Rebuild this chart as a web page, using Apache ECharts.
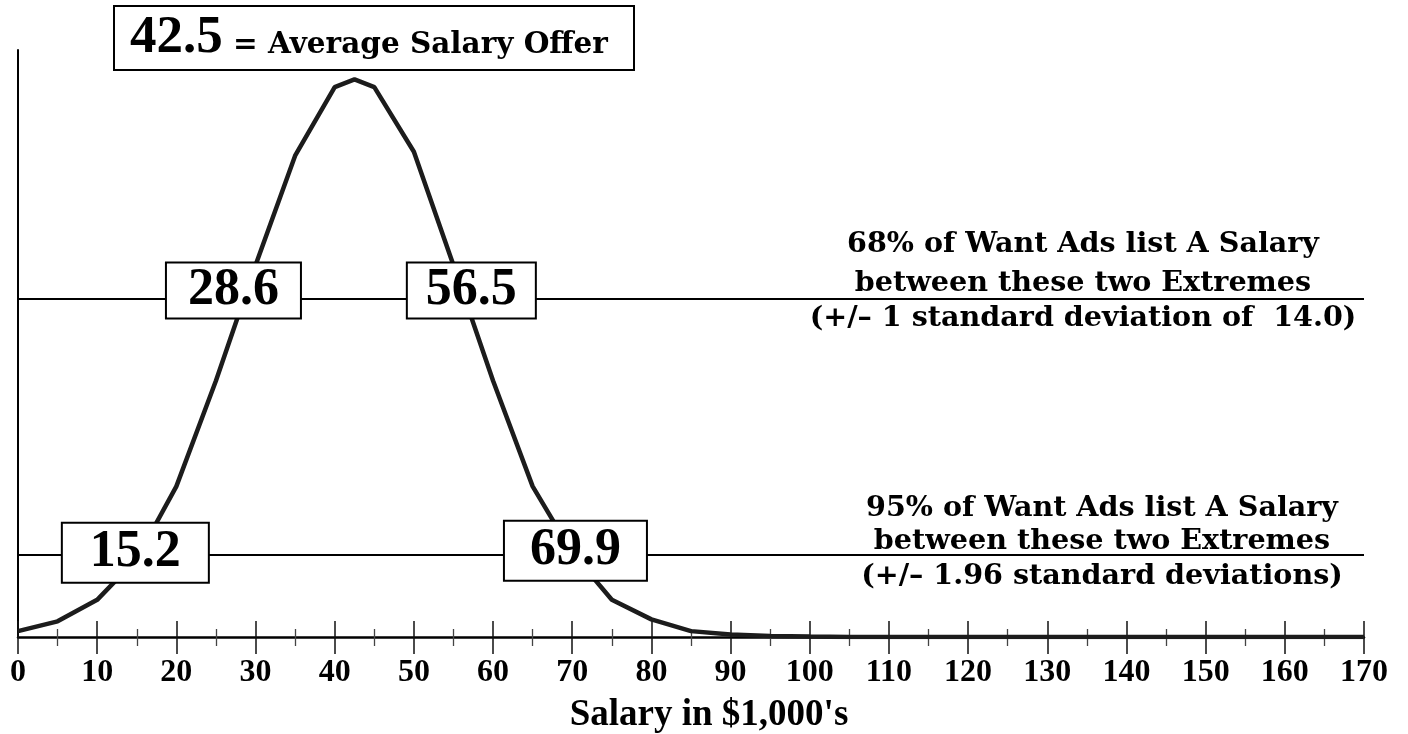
<!DOCTYPE html>
<html>
<head>
<meta charset="utf-8">
<script src="https://cdn.jsdelivr.net/npm/echarts@6/dist/echarts.min.js"></script>
<style>
  html, body { margin: 0; padding: 0; background: #fff; }
  #myChart { width: 1408px; height: 734px; }
</style>
</head>
<body>
<div id="myChart"></div>
<script>
// salary in $1,000's and share of want ads (% per $1,000)
const salary = [0, 5, 10, 15, 20, 25, 30, 35, 40, 42.5, 45, 50, 55, 60, 65, 70, 75, 80, 85, 90,
  95, 100, 105, 110, 115, 120, 125, 130, 135, 140, 145, 150, 155, 160, 165, 170];
const share = [0.03, 0.08, 0.19, 0.40, 0.77, 1.31, 1.90, 2.46, 2.81, 2.85, 2.81, 2.48, 1.90, 1.31, 0.77, 0.43, 0.19, 0.09, 0.03, 0.013,
  0.005, 0.002, 0, 0, 0, 0, 0, 0, 0, 0, 0, 0, 0, 0, 0, 0];

const meanSalary = 42.5;
const oneSdBounds = [28.6, 56.5];
const oneSdLevel = 1.73;
const twoSdBounds = [15.2, 69.9];
const twoSdLevel = 0.42;

const oneSdNote = ['68% of Want Ads list A Salary', 'between these two Extremes', '(+/\u2013 1 standard deviation of  14.0)'];
const twoSdNote = ['95% of Want Ads list A Salary', 'between these two Extremes', '(+/\u2013 1.96 standard deviations)'];

const numFont = 'Liberation Serif';
const textFont = 'DejaVu Serif';

const myChart = echarts.init(document.getElementById('myChart'));

// box look for each bound label (same order as boxData)
const boxLook = [
  { offset: [-11, -8], padding: [1, 21] },
  { offset: [6, -8], padding: [1, 18] },
  { offset: [-3, -2], padding: [3, 27] },
  { offset: [4, -4], padding: [3, 25] }
];
const boxData = [
  [oneSdBounds[0], oneSdLevel],
  [oneSdBounds[1], oneSdLevel],
  [twoSdBounds[0], twoSdLevel],
  [twoSdBounds[1], twoSdLevel]
].map((v, i) => ({ value: v, label: boxLook[i] }));

function noteLines (lines, cx, ys) {
  return lines.map((t, i) => ({
    type: 'text',
    x: cx,
    y: ys[i],
    z: 20,
    style: {
      text: t,
      font: 'bold 28.6px "' + textFont + '"',
      fill: '#000',
      align: 'center',
      verticalAlign: 'middle'
    }
  }));
}

const tickAxisBase = {
  type: 'value',
  min: 0,
  max: 170,
  interval: 10,
  position: 'bottom',
  splitLine: { show: false }
};

myChart.setOption({
  animation: false,
  grid: {
    left: 18,
    right: 44,
    top: 50,
    bottom: 97,
    containLabel: false,
    outerBoundsMode: 'none'
  },
  title: {
    text: '{a|' + meanSalary.toFixed(1) + '}{b| = Average Salary Offer}',
    left: 114,
    top: 6,
    padding: [3, 26, 3, 16],
    borderWidth: 2,
    borderColor: '#000',
    backgroundColor: '#fff',
    textStyle: {
      lineHeight: 58,
      rich: {
        a: { fontFamily: numFont, fontWeight: 'bold', fontSize: 53, lineHeight: 58, color: '#000' },
        b: { fontFamily: textFont, fontWeight: 'bold', fontSize: 29.5, color: '#000', padding: [14, 0, 0, 0] }
      }
    }
  },
  xAxis: [
    Object.assign({}, tickAxisBase, {
      name: "Salary in $1,000's",
      nameLocation: 'middle',
      nameGap: 60,
      nameTextStyle: {
        fontFamily: numFont, fontWeight: 'bold', fontSize: 37, color: '#000',
        padding: [0, 0, 0, 36]
      },
      axisLine: { show: true, lineStyle: { color: '#000', width: 2.5 } },
      axisTick: { show: true, inside: false, length: 17, lineStyle: { color: '#111', width: 1.5 } },
      minorTick: { show: true, splitNumber: 2, length: 9, lineStyle: { color: '#444', width: 1.3 } },
      axisLabel: {
        show: true,
        margin: 20,
        fontFamily: numFont,
        fontWeight: 'bold',
        fontSize: 32,
        color: '#000'
      }
    }),
    Object.assign({}, tickAxisBase, {
      axisLine: { show: false },
      axisTick: { show: true, inside: true, length: 16, lineStyle: { color: '#111', width: 1.5 } },
      minorTick: { show: true, splitNumber: 2, length: 8, lineStyle: { color: '#444', width: 1.3 } },
      axisLabel: { show: false }
    })
  ],
  yAxis: {
    type: 'value',
    min: 0,
    max: 3,
    axisLine: { show: true, lineStyle: { color: '#000', width: 2 } },
    axisTick: { show: false },
    axisLabel: { show: false },
    splitLine: { show: false }
  },
  graphic: noteLines(oneSdNote, 1083, [245, 284, 319])
    .concat(noteLines(twoSdNote, 1102, [509, 542, 577])),
  series: [
    {
      type: 'line',
      data: salary.map((s, i) => [s, share[i]]),
      symbol: 'none',
      smooth: false,
      z: 3,
      lineStyle: { color: '#1c1c1c', width: 4.5 },
      markLine: {
        silent: true,
        symbol: ['none', 'none'],
        label: { show: false },
        lineStyle: { color: '#000', width: 2, type: 'solid' },
        data: [{ yAxis: oneSdLevel }, { yAxis: twoSdLevel }]
      }
    },
    {
      type: 'scatter',
      data: boxData,
      symbolSize: 1,
      z: 10,
      itemStyle: { color: '#fff', opacity: 1 },
      label: {
        show: true,
        position: 'inside',
        formatter: p => p.value[0].toFixed(1),
        fontFamily: numFont,
        fontWeight: 'bold',
        fontSize: 52,
        lineHeight: 52,
        color: '#000',
        opacity: 1,
        backgroundColor: '#fff',
        borderColor: '#000',
        borderWidth: 2
      }
    }
  ]
});

window.addEventListener('resize', function () {
  myChart.resize();
});
</script>
</body>
</html>
